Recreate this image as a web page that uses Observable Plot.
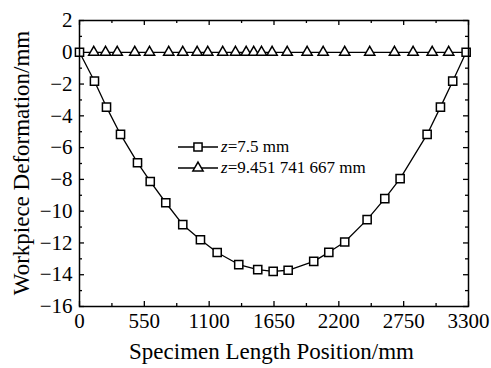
<!DOCTYPE html>
<html><head><meta charset="utf-8">
<script src="https://cdn.jsdelivr.net/npm/d3@7"></script>
<script src="https://cdn.jsdelivr.net/npm/@observablehq/plot@0.6"></script>
<style>body{margin:0;background:#fff}#c{position:relative;width:491px;height:368px}</style>
</head><body><div id="c"></div>
<script>
const squareX = [0,127,229,348,492,600,732,876,1026,1168,1351,1512,1643,1770,1987,2115,2250,2440,2590,2720,2949,3062,3166,3280];
const squareY = [0,-1.82,-3.45,-5.17,-6.95,-8.13,-9.47,-10.85,-11.8,-12.6,-13.36,-13.68,-13.79,-13.72,-13.16,-12.59,-11.94,-10.53,-9.21,-7.95,-5.17,-3.45,-1.82,0];
const triX = [0,121,221,320,469,594,757,876,998,1088,1215,1323,1414,1478,1544,1634,1762,1931,2067,2250,2462,2672,2830,2992,3132,3280];
const triY = triX.map(() => 0);
const xTicks = [0,550,1100,1650,2200,2750,3300];
const xMinor = [275,825,1375,1925,2475,3025];
const yTicks = [2,0,-2,-4,-6,-8,-10,-12,-14,-16];
const yMinor = [1,-1,-3,-5,-7,-9,-11,-13,-15];
const legendLabels = [["z","=7.5 mm"],["z","=9.451 741 667 mm"]];

const FONT = "Liberation Serif, Times New Roman, serif";
const W = 491, H = 368, mL = 79, mR = 23, mT = 20, mB = 62;
const pw = W - mL - mR, ph = H - mT - mB;
const sq = squareX.map((x,i)=>({x, y: squareY[i]}));
const tr = triX.map((x,i)=>({x, y: triY[i]}));
const triDots = tr.filter((d,i)=> i>0 && i<tr.length-1);
const maj = 5, mnr = 3;
const fmt = d => d < 0 ? "\u2212" + Math.abs(d) : String(d);

const chart = Plot.plot({
  width: W, height: H, marginLeft: mL, marginRight: mR, marginTop: mT, marginBottom: mB,
  style: {fontFamily: FONT, fontSize: "21px", color: "#000", background: "#fff"},
  x: {domain: [0,3300]},
  y: {domain: [-16,2]},
  marks: [
    Plot.axisX({ticks: xTicks, tickSize: 0, tickPadding: 7, label: null, fontSize: 21, fontFamily: FONT, tickFormat: fmt}),
    Plot.axisY({ticks: yTicks, tickSize: 0, tickPadding: 7, label: null, fontSize: 21, fontFamily: FONT, tickFormat: fmt}),
    Plot.ruleX(xTicks, {insetTop: ph - maj, stroke: "#000", strokeWidth: 1.3}),
    Plot.ruleX(xMinor, {insetTop: ph - mnr, stroke: "#000", strokeWidth: 1.3}),
    Plot.ruleX(xTicks, {insetBottom: ph - maj, stroke: "#000", strokeWidth: 1.3}),
    Plot.ruleX(xMinor, {insetBottom: ph - mnr, stroke: "#000", strokeWidth: 1.3}),
    Plot.ruleY(yTicks, {insetRight: pw - maj, stroke: "#000", strokeWidth: 1.3}),
    Plot.ruleY(yMinor, {insetRight: pw - mnr, stroke: "#000", strokeWidth: 1.3}),
    Plot.ruleY(yTicks, {insetLeft: pw - maj, stroke: "#000", strokeWidth: 1.3}),
    Plot.ruleY(yMinor, {insetLeft: pw - mnr, stroke: "#000", strokeWidth: 1.3}),
    Plot.line(tr, {x: "x", y: "y", stroke: "#000", strokeWidth: 1.3}),
    Plot.dot(triDots, {x: "x", y: "y", symbol: "triangle", r: 3.8, fill: "#fff", stroke: "#000", strokeWidth: 1.5}),
    Plot.line(sq, {x: "x", y: "y", stroke: "#000", strokeWidth: 1.3}),
    Plot.dot(sq, {x: "x", y: "y", symbol: "square", r: 4.6, fill: "#fff", stroke: "#000", strokeWidth: 1.5}),
    Plot.frame({stroke: "#000", strokeWidth: 1.5})
  ]
});
document.getElementById("c").appendChild(chart);

const svg = d3.select(chart);
// axis titles
svg.append("text").attr("x", mL + pw/2 - 2).attr("y", 359).attr("text-anchor","middle")
  .attr("font-family",FONT).attr("font-size", 23).attr("fill","#000").text("Specimen Length Position/mm");
svg.append("text").attr("transform", `translate(29,${mT + ph/2}) rotate(-90)`).attr("text-anchor","middle")
  .attr("font-family",FONT).attr("font-size", 23).attr("fill","#000").text("Workpiece Deformation/mm");
// legend
const lg = svg.append("g").attr("font-family",FONT).attr("font-size", 17).attr("text-anchor","start");
const sym = [d3.symbol(d3.symbolSquare, Math.PI*4.6*4.6), d3.symbol(d3.symbolTriangle, Math.PI*3.8*3.8)];
legendLabels.forEach((lab, i) => {
  const y = 147 + i*21;
  lg.append("line").attr("x1",178).attr("x2",218).attr("y1",y).attr("y2",y).attr("stroke","#000").attr("stroke-width",1.3);
  lg.append("path").attr("d", sym[i]()).attr("transform",`translate(198,${y})`).attr("fill","#fff").attr("stroke","#000").attr("stroke-width",1.5);
  const t = lg.append("text").attr("x",221).attr("y",y+5).attr("text-anchor","start");
  t.append("tspan").attr("font-style","italic").text(lab[0]);
  t.append("tspan").text(lab[1]);
});
</script></body></html>
